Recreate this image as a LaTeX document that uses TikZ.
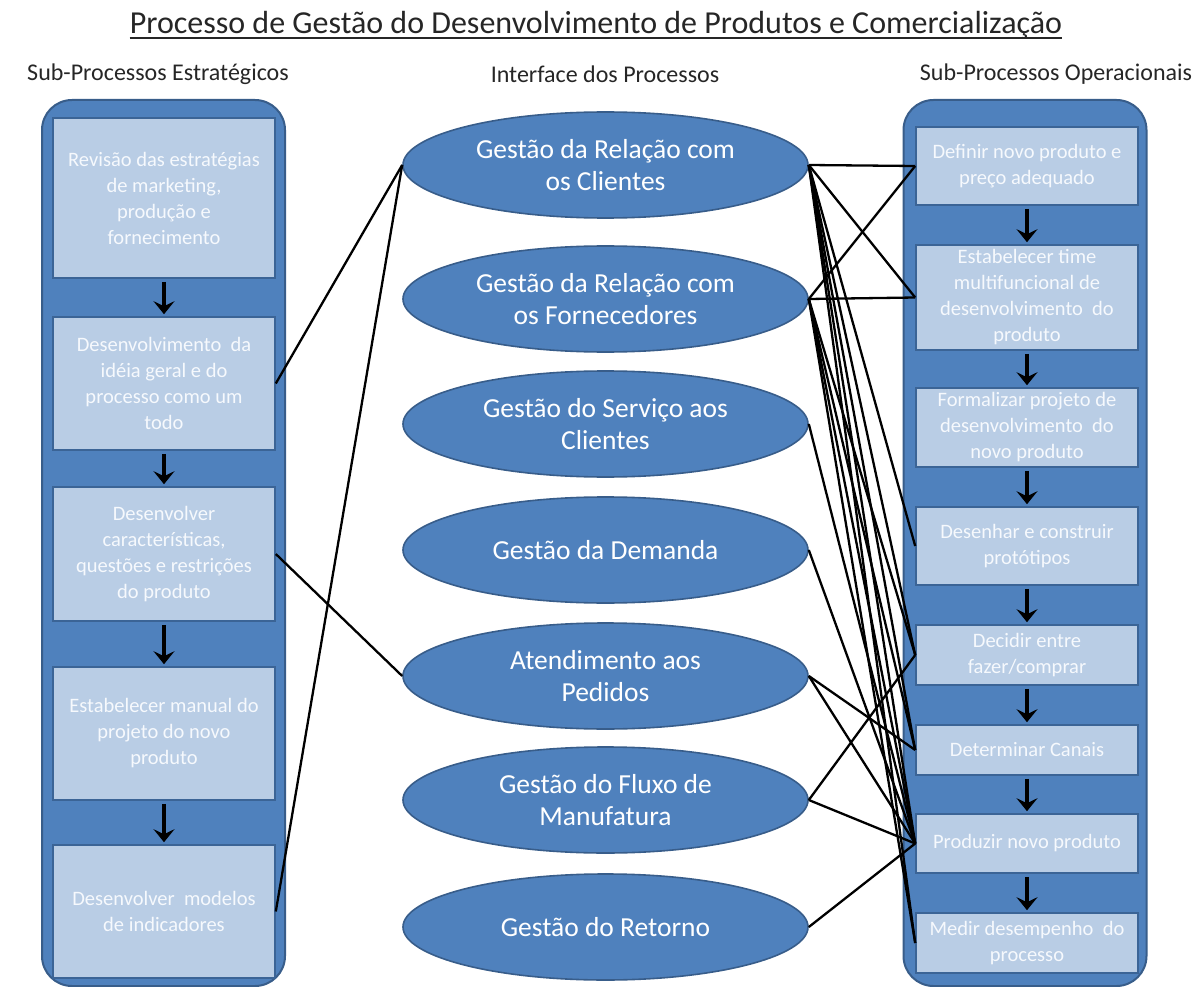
\documentclass[tikz,border=0pt]{standalone}
\usepackage{fontspec}
\setmainfont{Carlito}
\usetikzlibrary{shapes.geometric,arrows.meta,calc}
\definecolor{panelblue}{HTML}{4F81BD}
\definecolor{paneledge}{HTML}{385D8A}
\definecolor{boxfill}{HTML}{B9CDE5}
\definecolor{boxedge}{HTML}{3B6496}
\definecolor{boxtext}{HTML}{F6F9FD}
\begin{document}
\begin{tikzpicture}[x=1pt,y=-1pt,
  panel/.style={draw=paneledge,fill=panelblue,line width=2pt,rounded corners=30pt,minimum width=243pt,minimum height=886pt,inner sep=0pt},
  sbox/.style={draw=boxedge,fill=boxfill,line width=1.6pt,minimum width=222pt,inner sep=1pt,text=boxtext,align=center,font=\fontsize{20.5}{26}\selectfont},
  ell/.style={ellipse,draw=paneledge,fill=panelblue,line width=1.6pt,minimum width=405pt,minimum height=106pt,inner sep=0pt,text=white,align=center,font=\fontsize{27.5}{32}\selectfont},
  flow/.style={line width=3.8pt,-{Stealth[length=13pt,width=21pt,inset=5pt]},shorten <=3pt,shorten >=2pt},
  conn/.style={line width=2.3pt,black},
  hdr/.style={font=\fontsize{24}{28}\selectfont,text=black!85}]
\useasboundingbox[fill=white] (0,0) rectangle (1192,987);

% title and headers
\node[inner sep=0pt,font=\fontsize{32}{35}\selectfont,text=black!85] (title) at (596,25) {Processo de Gestão do Desenvolvimento de Produtos e Comercialização};
\draw[line width=1.4pt,black!85] ($(title.base west)+(0,4.5)$) -- ($(title.base east)+(0,4.5)$);
\node[hdr] (H1) at (158,74) {Sub-Processos Estratégicos};
\node[hdr] (H2) at (605,74) {Interface dos Processos};
\node[hdr] (H3) at (1056,74) {Sub-Processos Operacionais};

% panels
\node[panel] (LP) at (163.5,543) {};
\node[panel] (RP) at (1025,543) {};

% left boxes
\node[sbox,minimum height=160pt] (L1) at (164,198) {Revisão das estratégias\\de marketing,\\produção e\\fornecimento};
\node[sbox,minimum height=133pt] (L2) at (164,383.5) {Desenvolvimento\ \ da\\idéia geral e do\\processo como um\\todo};
\node[sbox,minimum height=134pt] (L3) at (164,554) {Desenvolver\\características,\\questões e restrições\\do produto};
\node[sbox,minimum height=133pt] (L4) at (164,733.5) {Estabelecer manual do\\projeto do novo\\produto};
\node[sbox,minimum height=133pt] (L5) at (164,911.5) {Desenvolver\ \ modelos\\de indicadores};
\draw[flow] (L1.south) -- (L2.north);
\draw[flow] (L2.south) -- (L3.north);
\draw[flow] (L3.south) -- (L4.north);
\draw[flow] (L4.south) -- (L5.north);

% right boxes
\node[sbox,minimum height=78pt] (R1) at (1027,166) {Definir novo produto e\\preço adequado};
\node[sbox,minimum height=105pt] (R2) at (1027,297.5) {Estabelecer time\\multifuncional de\\desenvolvimento\ \ do\\produto};
\node[sbox,minimum height=79pt] (R3) at (1027,427.5) {Formalizar projeto de\\desenvolvimento\ \ do\\novo produto};
\node[sbox,minimum height=78pt] (R4) at (1027,546) {Desenhar e construir\\protótipos};
\node[sbox,minimum height=60pt] (R5) at (1027,655) {Decidir entre\\fazer/comprar};
\node[sbox,minimum height=50pt] (R6) at (1027,750) {Determinar Canais};
\node[sbox,minimum height=59pt] (R7) at (1027,843.5) {Produzir novo produto};
\node[sbox,minimum height=60pt] (R8) at (1027,943) {Medir desempenho\ \ do\\processo};
\draw[flow] (R1.south) -- (R2.north);
\draw[flow] (R2.south) -- (R3.north);
\draw[flow] (R3.south) -- (R4.north);
\draw[flow] (R4.south) -- (R5.north);
\draw[flow] (R5.south) -- (R6.north);
\draw[flow] (R6.south) -- (R7.north);
\draw[flow] (R7.south) -- (R8.north);

% interface ellipses
\node[ell] (E1) at (605.5,165) {Gestão da Relação com\\os Clientes};
\node[ell] (E2) at (605.5,299) {Gestão da Relação com\\os Fornecedores};
\node[ell] (E3) at (605.5,424) {Gestão do Serviço aos\\Clientes};
\node[ell] (E4) at (605.5,550) {Gestão da Demanda};
\node[ell] (E5) at (605.5,676) {Atendimento aos\\Pedidos};
\node[ell] (E6) at (605.5,800) {Gestão do Fluxo de\\Manufatura};
\node[ell] (E7) at (605.5,927) {Gestão do Retorno};

% connectors
\draw[conn] (E1.west) -- (L2.east);
\draw[conn] (E1.west) -- (L5.east);
\draw[conn] (L3.east) -- (E5.west);
\foreach \a/\b in {E1/R1,E1/R2,E1/R4,E1/R5,E1/R6,E1/R7,E1/R8,
                   E2/R1,E2/R2,E2/R5,E2/R6,E2/R7,E2/R8,
                   E3/R7,E4/R7,E5/R6,E5/R7,E6/R5,E6/R7,E7/R7}
  \draw[conn] (\a.east) -- (\b.west);
\end{tikzpicture}
\end{document}
